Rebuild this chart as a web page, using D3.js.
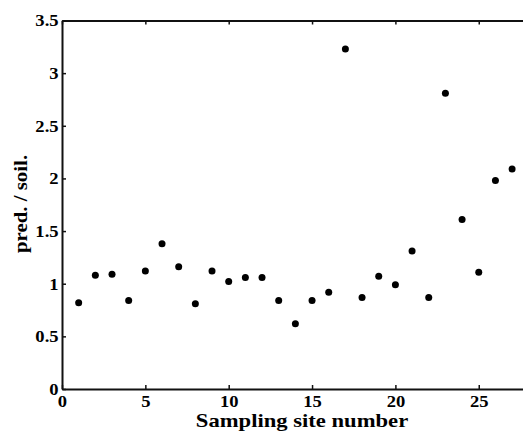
<!DOCTYPE html>
<html>
<head>
<meta charset="utf-8">
<script src="https://cdn.jsdelivr.net/npm/d3@7"></script>
<style>
  html, body { margin: 0; padding: 0; background: #fff; }
  svg { display: block; }
  text { font-family: "Liberation Serif", "Times New Roman", serif; font-weight: bold; fill: #000; }
</style>
</head>
<body>
<svg id="chart" width="523" height="434"></svg>
<script>
// Data
const sites = [1,2,3,4,5,6,7,8,9,10,11,12,13,14,15,16,17,18,19,20,21,22,23,24,25,26,27];
const ratios = [0.82,1.08,1.09,0.84,1.12,1.38,1.16,0.81,1.12,1.02,1.06,1.06,0.84,0.62,0.84,0.92,3.23,0.87,1.07,0.99,1.31,0.87,2.81,1.61,1.11,1.98,2.09];
const xTicks = [0,5,10,15,20,25];
const yTicks = [0,0.5,1,1.5,2,2.5,3,3.5];
const xLabel = "Sampling site number";
const yLabel = "pred. / soil.";

(function () {
  const svg = d3.select("#chart");
  const mLeft = 62, mTop = 20.5, mBottom = 389;
  const pxPerUnit = 16.67;
  const mRight = mLeft + 28 * pxPerUnit;
  const wide = 1.16;

  const x = d3.scaleLinear().domain([0, 28]).range([mLeft, mRight]);
  const y = d3.scaleLinear().domain([0, 3.5]).range([mBottom, mTop]);

  const fmt = d3.format("~g");

  const gx = svg.append("g").attr("transform", `translate(0,${mBottom})`)
    .call(d3.axisBottom(x).tickValues(xTicks).tickFormat(fmt).tickSizeInner(-4).tickSizeOuter(0).tickPadding(6));
  const gt = svg.append("g").attr("transform", `translate(0,${mTop})`)
    .call(d3.axisTop(x).tickValues(xTicks).tickFormat("").tickSizeInner(-4).tickSizeOuter(0));
  const gy = svg.append("g").attr("transform", `translate(${mLeft},0)`)
    .call(d3.axisLeft(y).tickValues(yTicks).tickFormat(fmt).tickSizeInner(-4).tickSizeOuter(0).tickPadding(3));

  [gx, gt, gy].forEach(g => {
    g.attr("font-family", "'Liberation Serif', 'Times New Roman', serif")
     .attr("font-size", 16).attr("font-weight", "bold");
    g.select(".domain").attr("stroke", "#111").attr("stroke-width", 2);
    g.selectAll(".tick line").attr("stroke", "#111").attr("stroke-width", 1.5);
    g.selectAll(".tick text").attr("fill", "#000");
  });
  gx.selectAll(".tick text").attr("dy", "0.72em").attr("transform", `scale(${wide},1)`)
    .attr("x", 0);
  gy.selectAll(".tick text").attr("dy", "0.34em").attr("transform", `scale(${wide},1)`);

  svg.append("g").selectAll("circle")
    .data(sites.map((s, i) => ({ s, v: ratios[i] })))
    .join("circle")
    .attr("cx", d => x(d.s))
    .attr("cy", d => y(d.v))
    .attr("r", 3.5)
    .attr("fill", "#000");

  svg.append("text")
    .attr("transform", `translate(302,427) scale(${wide},1)`)
    .attr("text-anchor", "middle")
    .style("font-size", "19.5px")
    .text(xLabel);

  svg.append("text")
    .attr("transform", `translate(27,204) rotate(-90) scale(${wide},1)`)
    .attr("text-anchor", "middle")
    .style("font-size", "18px")
    .text(yLabel);
})();
</script>
</body>
</html>
